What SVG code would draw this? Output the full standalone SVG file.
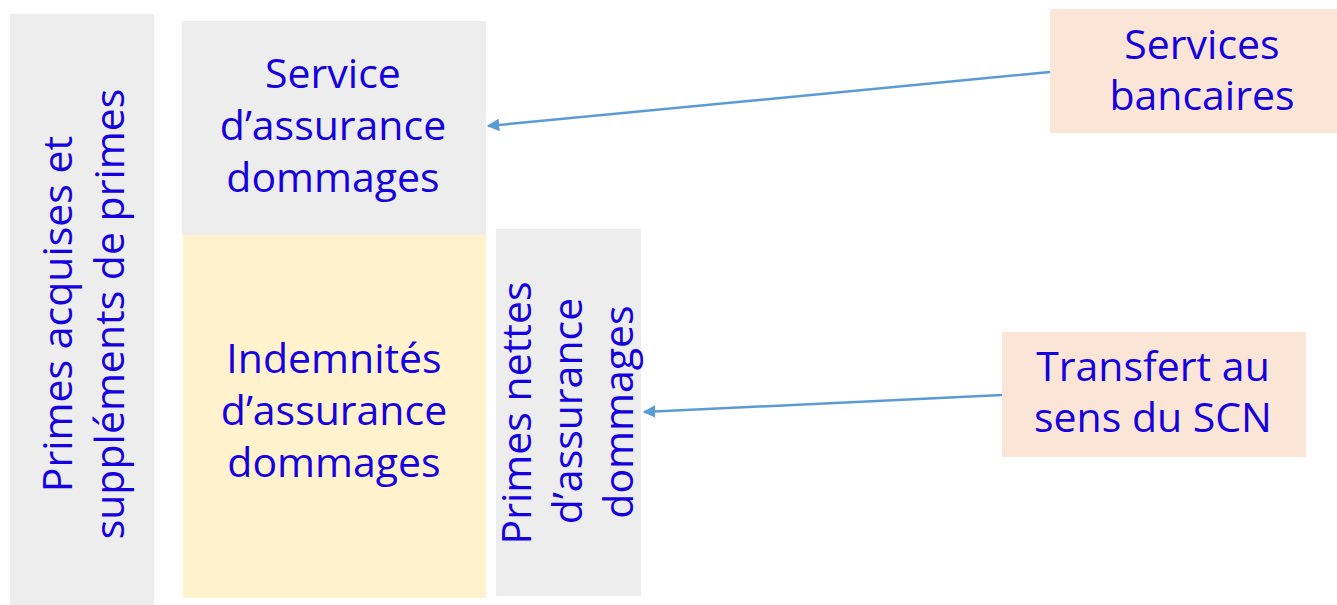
<svg xmlns="http://www.w3.org/2000/svg" width="1337" height="605" viewBox="0 0 1337 605">
<defs>
<style>
.t{font-family:"Open Sans","Liberation Sans",sans-serif;font-size:41px;fill:#1500e0;text-anchor:middle}
.g{fill:#ededed}
.y{fill:#fff2cc}
.p{fill:#fbe5d6}
.c{stroke:#5b9bd5;stroke-width:2.5;fill:none}
</style>
<marker id="ah" viewBox="0 0 10 10" refX="9" refY="5" markerWidth="5" markerHeight="5" markerUnits="strokeWidth" orient="auto">
<path d="M0,0 L10,5 L0,10 z" fill="#5b9bd5"/>
</marker>
</defs>
<rect width="1337" height="605" fill="#ffffff"/>
<g id="primes-acquises">
<rect class="g" x="10" y="14" width="144" height="591"/>
<text class="t" transform="translate(72,314) rotate(-90)">Primes acquises et</text>
<text class="t" transform="translate(124,314) rotate(-90)">suppléments de primes</text>
</g>
<g id="service-assurance">
<rect class="g" x="182" y="21" width="304" height="214"/>
<text class="t" x="333" y="88">Service</text>
<text class="t" x="333" y="140">d’assurance</text>
<text class="t" x="333" y="192">dommages</text>
</g>
<g id="indemnites">
<rect class="y" x="183" y="235" width="303" height="363"/>
<text class="t" x="334" y="373">Indemnités</text>
<text class="t" x="334" y="425">d’assurance</text>
<text class="t" x="334" y="477">dommages</text>
</g>
<g id="primes-nettes">
<rect class="g" x="496" y="229" width="145" height="367"/>
<text class="t" transform="translate(531,413) rotate(-90)">Primes nettes</text>
<text class="t" transform="translate(582,411) rotate(-90)">d’assurance</text>
<text class="t" transform="translate(633,412) rotate(-90)">dommages</text>
</g>
<g id="services-bancaires">
<rect class="p" x="1050" y="9" width="287" height="124"/>
<text class="t" x="1202" y="59">Services</text>
<text class="t" x="1202" y="110">bancaires</text>
</g>
<g id="transfert">
<rect class="p" x="1002" y="332" width="304" height="125"/>
<text class="t" x="1153" y="381">Transfert au</text>
<text class="t" x="1153" y="432">sens du SCN</text>
</g>
<g id="connectors">
<line class="c" x1="1050" y1="72" x2="488" y2="126" marker-end="url(#ah)"/>
<line class="c" x1="1002" y1="395" x2="644" y2="412" marker-end="url(#ah)"/>
</g>
</svg>
